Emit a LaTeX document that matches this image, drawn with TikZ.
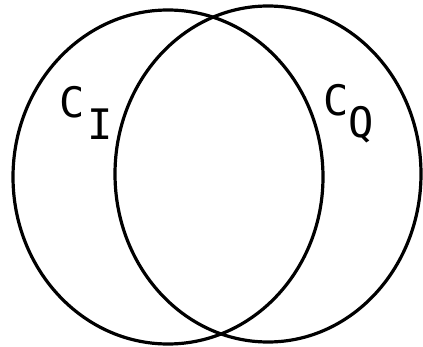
\documentclass[tikz,border=0pt]{standalone}
\usepackage{fontspec}
\setmonofont{DejaVu Sans Mono}
\begin{document}
\begin{tikzpicture}[x=1pt,y=1pt,
  ring/.style={draw=black,line width=3.2pt},
  lbl/.style={inner sep=0pt,font=\ttfamily\fontsize{42}{42}\selectfont}]
\useasboundingbox (0,0) rectangle (423,346);
\draw[ring] (168,169) ellipse [x radius=155, y radius=167];
\draw[ring] (268,172) ellipse [x radius=153, y radius=168];
\node[lbl] (c1) at (72,244) {C};
\node[lbl] (i1) at (100,222) {I};
\node[lbl] (c2) at (336,246) {C};
\node[lbl] (q2) at (361,221) {Q};
\end{tikzpicture}
\end{document}
